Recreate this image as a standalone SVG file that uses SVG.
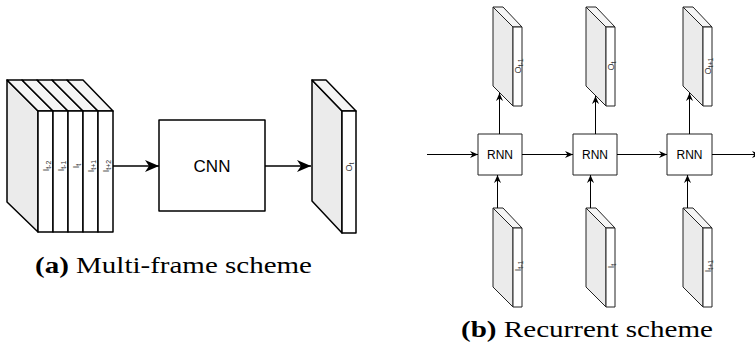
<svg xmlns="http://www.w3.org/2000/svg" width="755" height="357" viewBox="0 0 755 357">
<style>
.bg{fill:#fff}
.side{fill:#ebebeb}
.topf{fill:#f5f5f5}
.front{fill:#fff}
.thick{stroke:#000;stroke-width:1.5;stroke-linejoin:round}
.thin{stroke:#222;stroke-width:1;stroke-linejoin:round}
.conA{stroke:#000;stroke-width:1.5;fill:none}
.conB{stroke:#000;stroke-width:1;fill:none}
.lbl{font-family:"Liberation Sans",Arial,sans-serif;font-size:9px;fill:#333}
.sub{font-size:7px}
.box{fill:#fff}
.cnn{font-family:"Liberation Sans",Arial,sans-serif;font-size:17px;fill:#000}
.rnn{font-family:"Liberation Sans",Arial,sans-serif;font-size:12px;fill:#000}
.cap{font-family:"Liberation Serif","Times New Roman",serif;font-size:23px;fill:#000}
</style>
<defs>
<marker id="big" markerUnits="userSpaceOnUse" viewBox="0 0 14 12" markerWidth="14" markerHeight="12" refX="14" refY="6" orient="auto">
<path d="M0,0 L14,6 L0,12 L4,6 Z" fill="#000"/>
</marker>
<marker id="small" markerUnits="userSpaceOnUse" viewBox="0 0 8 7" markerWidth="8" markerHeight="7" refX="8" refY="3.5" orient="auto">
<path d="M0,0 L8,3.5 L0,7 L2.5,3.5 Z" fill="#000"/>
</marker>
</defs>
<rect class="bg" x="0" y="0" width="755" height="357"/>

<g id="input-stack">
<polygon class="side thick" points="7,80 38,111 38,232 7,202"/>
<polygon class="topf thick" points="7,80 22,80 53,111 38,111"/>
<polygon class="topf thick" points="22,80 37,80 68,111 53,111"/>
<polygon class="topf thick" points="37,80 52,80 83,111 68,111"/>
<polygon class="topf thick" points="52,80 67,80 98,111 83,111"/>
<polygon class="topf thick" points="67,80 83,80 113,111 98,111"/>
<rect class="front thick" x="38" y="111" width="15" height="121"/>
<rect class="front thick" x="53" y="111" width="15" height="121"/>
<rect class="front thick" x="68" y="111" width="15" height="121"/>
<rect class="front thick" x="83" y="111" width="15" height="121"/>
<rect class="front thick" x="98" y="111" width="15" height="121"/>
<text class="lbl" transform="translate(48.5,166) rotate(-90)" text-anchor="middle">I<tspan class="sub" dy="2">t-2</tspan></text>
<text class="lbl" transform="translate(63.5,166) rotate(-90)" text-anchor="middle">I<tspan class="sub" dy="2">t-1</tspan></text>
<text class="lbl" transform="translate(78.5,166) rotate(-90)" text-anchor="middle">I<tspan class="sub" dy="2">t</tspan></text>
<text class="lbl" transform="translate(93.5,166) rotate(-90)" text-anchor="middle">I<tspan class="sub" dy="2">t+1</tspan></text>
<text class="lbl" transform="translate(108.5,166) rotate(-90)" text-anchor="middle">I<tspan class="sub" dy="2">t+2</tspan></text>
</g>

<g id="cnn">
<rect class="box thick" x="159" y="120" width="106" height="91"/>
<text class="cnn" x="212" y="172" text-anchor="middle">CNN</text>
</g>

<g id="output-slab">
<polygon class="side thick" points="312,80 342,111 342,233 312,201"/>
<polygon class="topf thick" points="312,80 326,80 356,111 342,111"/>
<rect class="front thick" x="342" y="111" width="14" height="122"/>
<text class="lbl" transform="translate(352,167) rotate(-90)" text-anchor="middle">O<tspan class="sub" dy="2">t</tspan></text>
</g>

<g id="out1">
<polygon class="side thin" points="493,7 513,27 513,106 493,86"/>
<polygon class="topf thin" points="493,7 503,7 522,27 513,27"/>
<rect class="front thin" x="513" y="27" width="9" height="79"/>
<text class="lbl" transform="translate(520.5,66) rotate(-90)" text-anchor="middle">O<tspan class="sub" dy="2">t-1</tspan></text>
</g>
<g id="out2">
<polygon class="side thin" points="586,7 606,27 606,106 586,86"/>
<polygon class="topf thin" points="586,7 596,7 615,27 606,27"/>
<rect class="front thin" x="606" y="27" width="9" height="79"/>
<text class="lbl" transform="translate(613.5,66) rotate(-90)" text-anchor="middle">O<tspan class="sub" dy="2">t</tspan></text>
</g>
<g id="out3">
<polygon class="side thin" points="683,7 703,27 703,106 683,86"/>
<polygon class="topf thin" points="683,7 693,7 712,27 703,27"/>
<rect class="front thin" x="703" y="27" width="9" height="79"/>
<text class="lbl" transform="translate(710.5,66) rotate(-90)" text-anchor="middle">O<tspan class="sub" dy="2">t+1</tspan></text>
</g>

<g id="in1">
<polygon class="side thin" points="493,208 513,228 513,307 493,287"/>
<polygon class="topf thin" points="493,208 503,208 522,228 513,228"/>
<rect class="front thin" x="513" y="228" width="9" height="79"/>
<text class="lbl" transform="translate(520.5,266) rotate(-90)" text-anchor="middle">I<tspan class="sub" dy="2">t-1</tspan></text>
</g>
<g id="in2">
<polygon class="side thin" points="586,208 606,228 606,307 586,287"/>
<polygon class="topf thin" points="586,208 596,208 615,228 606,228"/>
<rect class="front thin" x="606" y="228" width="9" height="79"/>
<text class="lbl" transform="translate(613.5,266) rotate(-90)" text-anchor="middle">I<tspan class="sub" dy="2">t</tspan></text>
</g>
<g id="in3">
<polygon class="side thin" points="683,208 703,228 703,307 683,287"/>
<polygon class="topf thin" points="683,208 693,208 712,228 703,228"/>
<rect class="front thin" x="703" y="228" width="9" height="79"/>
<text class="lbl" transform="translate(710.5,266) rotate(-90)" text-anchor="middle">I<tspan class="sub" dy="2">t+1</tspan></text>
</g>

<g id="rnn1">
<rect class="box thin" x="478" y="134" width="44" height="41"/>
<text class="rnn" x="500" y="159" text-anchor="middle">RNN</text>
</g>
<g id="rnn2">
<rect class="box thin" x="573" y="134" width="44" height="41"/>
<text class="rnn" x="595" y="159" text-anchor="middle">RNN</text>
</g>
<g id="rnn3">
<rect class="box thin" x="667" y="134" width="45" height="41"/>
<text class="rnn" x="689.5" y="159" text-anchor="middle">RNN</text>
</g>

<g id="connectors">
<line class="conA" x1="113" y1="166" x2="159" y2="166" marker-end="url(#big)"/>
<line class="conA" x1="265" y1="166" x2="311" y2="166" marker-end="url(#big)"/>
<line class="conB" x1="427" y1="154.5" x2="478" y2="154.5" marker-end="url(#small)"/>
<line class="conB" x1="522" y1="154.5" x2="573" y2="154.5" marker-end="url(#small)"/>
<line class="conB" x1="617" y1="154.5" x2="667" y2="154.5" marker-end="url(#small)"/>
<line class="conB" x1="712" y1="154.5" x2="760" y2="154.5" marker-end="url(#small)"/>
<line class="conB" x1="499.5" y1="134" x2="499.5" y2="93" marker-end="url(#small)"/>
<line class="conB" x1="595.5" y1="134" x2="595.5" y2="96" marker-end="url(#small)"/>
<line class="conB" x1="689.5" y1="134" x2="689.5" y2="93" marker-end="url(#small)"/>
<line class="conB" x1="497.5" y1="208" x2="497.5" y2="175" marker-end="url(#small)"/>
<line class="conB" x1="590.5" y1="208" x2="590.5" y2="175" marker-end="url(#small)"/>
<line class="conB" x1="687.5" y1="208" x2="687.5" y2="175" marker-end="url(#small)"/>
</g>

<text class="cap" x="35" y="273" textLength="277" lengthAdjust="spacingAndGlyphs"><tspan font-weight="bold">(a)</tspan> Multi-frame scheme</text>
<text class="cap" x="461" y="337" textLength="252" lengthAdjust="spacingAndGlyphs"><tspan font-weight="bold">(b)</tspan> Recurrent scheme</text>
</svg>
